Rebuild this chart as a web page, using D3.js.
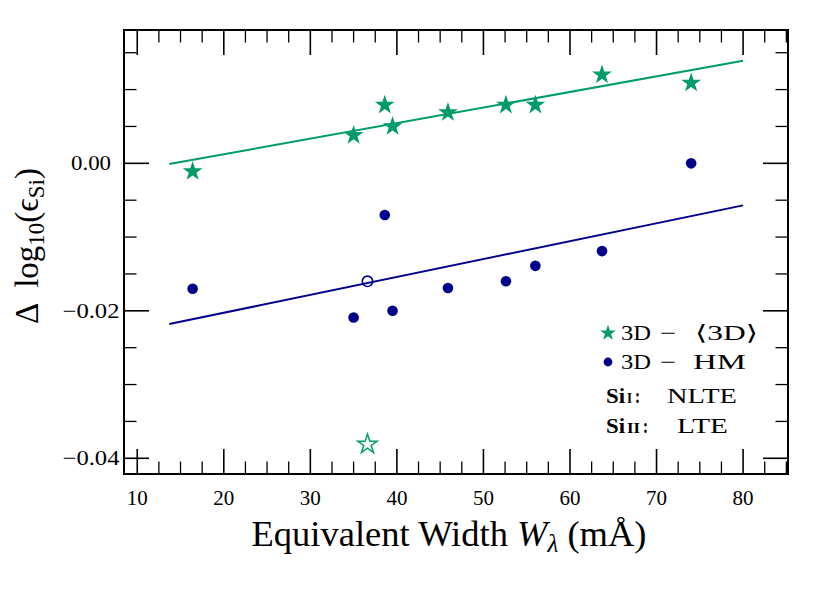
<!DOCTYPE html>
<html>
<head>
<meta charset="utf-8">
<script src="https://cdn.jsdelivr.net/npm/d3@7"></script>
<style>
  html, body { margin: 0; padding: 0; background: #fff; }
  svg { display: block; }
  text { font-family: "Liberation Serif", "DejaVu Serif", serif; fill: #000; }
</style>
</head>
<body>
<svg id="chart" width="830" height="593"></svg>
<script>
// ---- data ----
const eqWidth    = [16.4, 35.0, 38.6, 39.5, 45.9, 52.6, 56.0, 63.7, 74.0];
const diff3Dmean = [-0.0011, 0.0038, 0.0079, 0.0050, 0.0069, 0.0079, 0.0079, 0.0120, 0.0109];
const diffHM     = [-0.0170, -0.0209, -0.0070, -0.0200, -0.0169, -0.0160, -0.0139, -0.0119, 0.0000];
const siIIWidth  = [36.6];
const siII3Dmean = [-0.0381];
const siIIHM     = [-0.0160];
const fitX       = [13.7, 80];
const fit3Dmean  = [-0.0001, 0.0139];
const fitHM      = [-0.0218, -0.0057];
const xTicks = [10, 20, 30, 40, 50, 60, 70, 80];
const yTicks = [-0.04, -0.02, 0.00];
const yTickLabels = ["\u22120.04", "\u22120.02", "0.00"];
const legendLabels = ["3D \u2212 \u27E83D\u27E9", "3D \u2212 HM"];

const green = "#009b6b";
const blue = "#00008b";

const svg = d3.select("#chart");
const L = 124, R = 788, T = 30, B = 474;
const x = d3.scaleLinear().domain([8.47, 85.19]).range([L, R]);
const y = d3.scaleLinear().domain([-0.04213, 0.01808]).range([B, T]);

// minor ticks
const xMinor = d3.range(0, 100, 2.5).filter(v => v > 8.47 && v < 85.19 && Math.abs(v % 10) > 1e-6);
const yMinor = d3.range(-45, 20, 5).map(v => v / 1000)
  .filter(v => v > -0.04213 && v < 0.01808 && Math.round(v * 1000) % 20 !== 0);

const MAJ = 25, MIN = 12.5;
const g = svg.append("g");

function tickLines(vals, len, width) {
  vals.forEach(v => {
    const px = x(v);
    g.append("line").attr("x1", px).attr("x2", px).attr("y1", B).attr("y2", B - len)
      .attr("stroke", "#000").attr("stroke-width", width);
    g.append("line").attr("x1", px).attr("x2", px).attr("y1", T).attr("y2", T + len)
      .attr("stroke", "#000").attr("stroke-width", width);
  });
}
function yTickLines(vals, len, width) {
  vals.forEach(v => {
    const py = y(v);
    g.append("line").attr("x1", L).attr("x2", L + len).attr("y1", py).attr("y2", py)
      .attr("stroke", "#000").attr("stroke-width", width);
    g.append("line").attr("x1", R).attr("x2", R - len).attr("y1", py).attr("y2", py)
      .attr("stroke", "#000").attr("stroke-width", width);
  });
}
tickLines(xTicks, MAJ, 1.6);
tickLines(xMinor, MIN, 1.3);
yTickLines(yTicks, MAJ, 1.6);
yTickLines(yMinor, MIN, 1.3);

// tick labels
g.selectAll(".xl").data(xTicks).enter().append("text")
  .attr("x", d => x(d)).attr("y", 505).attr("text-anchor", "middle")
  .attr("font-size", 21).text(d => d);
g.selectAll(".yl").data(yTicks).enter().append("text")
  .attr("x", 91).attr("y", d => y(d) + 7).attr("text-anchor", "middle")
  .attr("font-size", 21)
  .attr("textLength", (d, i) => yTickLabels[i].length === 5 ? 57 : 40)
  .attr("lengthAdjust", "spacingAndGlyphs")
  .text((d, i) => yTickLabels[i]);

// fit lines
const line = d3.line().x(d => x(d[0])).y(d => y(d[1]));
g.append("path").attr("d", line(fitX.map((v, i) => [v, fit3Dmean[i]])))
  .attr("fill", "none").attr("stroke", green).attr("stroke-width", 2);
g.append("path").attr("d", line(fitX.map((v, i) => [v, fitHM[i]])))
  .attr("fill", "none").attr("stroke", blue).attr("stroke-width", 2);

// markers
const starSize = (r) => (r * r) / 0.8908130915292852;
const star = d3.symbol().type(d3.symbolStar);
g.selectAll(".st").data(eqWidth).enter().append("path")
  .attr("transform", (d, i) => `translate(${x(d)},${y(diff3Dmean[i])})`)
  .attr("d", star.size(starSize(10.4))()).attr("fill", green);
g.selectAll(".dt").data(eqWidth).enter().append("circle")
  .attr("cx", d => x(d)).attr("cy", (d, i) => y(diffHM[i])).attr("r", 5.3).attr("fill", blue);
g.selectAll(".hs").data(siIIWidth).enter().append("path")
  .attr("transform", (d, i) => `translate(${x(d)},${y(siII3Dmean[i])})`)
  .attr("d", star.size(starSize(10.2))()).attr("fill", "none")
  .attr("stroke", green).attr("stroke-width", 1.5).attr("stroke-linejoin", "miter");
g.selectAll(".hc").data(siIIWidth).enter().append("circle")
  .attr("cx", d => x(d)).attr("cy", (d, i) => y(siIIHM[i])).attr("r", 5.2)
  .attr("fill", "none").attr("stroke", blue).attr("stroke-width", 1.6);

// frame
g.append("rect").attr("x", L).attr("y", T).attr("width", R - L).attr("height", B - T)
  .attr("fill", "none").attr("stroke", "#000").attr("stroke-width", 2);

// legend
const lg = svg.append("g");
function piece(px, py, txt, w, opts = {}) {
  const t = lg.append("text").attr("x", px).attr("y", py)
    .attr("font-size", opts.size || 21)
    .attr("textLength", w).attr("lengthAdjust", "spacingAndGlyphs").text(txt);
  if (opts.bold) t.attr("font-weight", "bold");
  return t;
}
lg.append("path").attr("transform", "translate(608,333)")
  .attr("d", star.size(starSize(8.3))()).attr("fill", green);
const p1 = legendLabels[0].split(" ");
piece(621, 340, p1[0], 30);
piece(660, 340, p1[1], 16);
piece(695, 340, p1[2], 63);
lg.append("circle").attr("cx", 608).attr("cy", 362).attr("r", 4.4).attr("fill", blue);
const p2 = legendLabels[1].split(" ");
piece(621, 369, p2[0], 30);
piece(660, 369, p2[1], 16);
piece(693, 369, p2[2], 53);
piece(606, 403, "Si", 19, { bold: true });
piece(627, 403, "I", 5, { bold: true, size: 15 });
piece(635, 403, ":", 5, { bold: true });
piece(667, 403, "NLTE", 70);
piece(606, 433, "Si", 19, { bold: true });
piece(627, 433, "II", 13, { bold: true, size: 15 });
piece(643, 433, ":", 5, { bold: true });
piece(677, 433, "LTE", 51);

// axis labels
const xl = svg.append("text").attr("x", 449).attr("y", 546).attr("text-anchor", "middle")
  .attr("font-size", 36.5);
xl.append("tspan").text("Equivalent Width ");
xl.append("tspan").attr("font-style", "italic").text("W");
xl.append("tspan").attr("font-style", "italic").attr("font-size", 25).attr("dy", 6).text("\u03BB");
xl.append("tspan").attr("dy", -6).text(" (m\u00C5)");

const yl = svg.append("text").attr("transform", "translate(38,246) rotate(-90)")
  .attr("text-anchor", "middle").attr("font-size", 33);
yl.append("tspan").text("\u0394\u2009 log");
yl.append("tspan").attr("font-size", 23).attr("dy", 6).text("10");
yl.append("tspan").attr("dy", -6).text("(\u03F5");
yl.append("tspan").attr("font-size", 23).attr("dy", 6).text("Si");
yl.append("tspan").attr("dy", -6).text(")");
</script>
</body>
</html>
